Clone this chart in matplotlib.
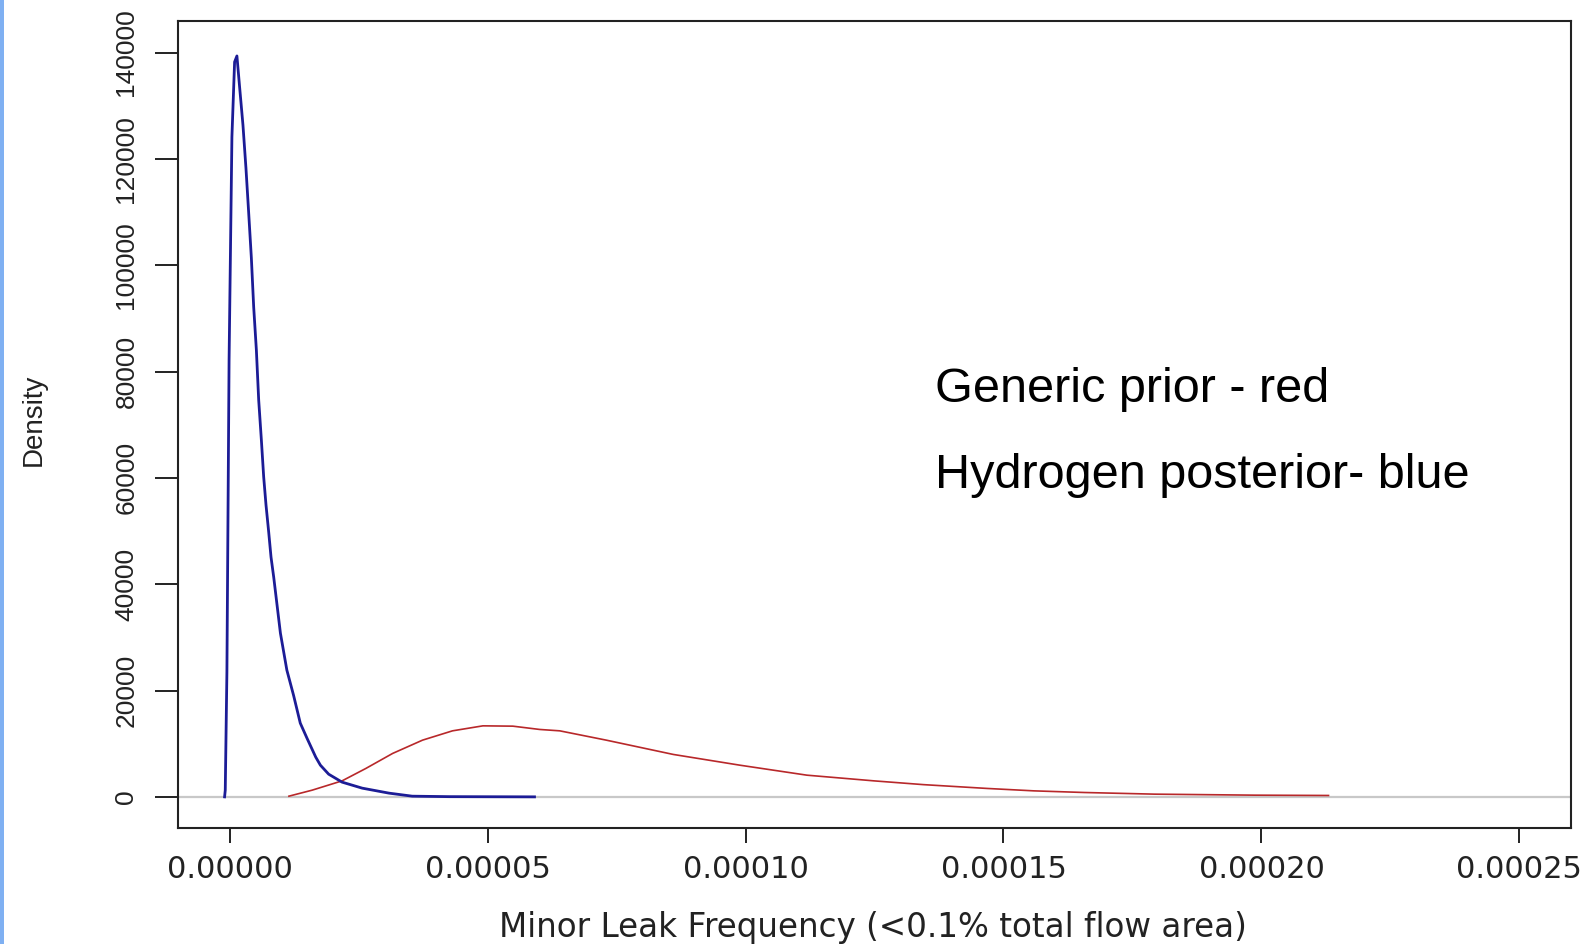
import matplotlib
matplotlib.use("Agg")
import matplotlib.pyplot as plt
from matplotlib.patches import Rectangle

# values
# posterior (blue) density: x in leak frequency, y in density
post_x = [-0.97e-6, -0.84e-6, -0.52e-6, -0.10e-6, 0.45e-6, 0.97e-6, 1.42e-6,
          1.94e-6, 2.59e-6, 3.17e-6, 3.69e-6, 4.22e-6, 4.67e-6, 5.19e-6,
          5.64e-6, 6.16e-6, 6.61e-6, 7.06e-6, 7.58e-6, 8.03e-6, 8.55e-6,
          9.85e-6, 11.1e-6, 12.4e-6, 13.7e-6, 15.0e-6, 16.7e-6, 17.6e-6,
          19.2e-6, 21.8e-6, 25.7e-6, 30.9e-6, 35.4e-6, 42.6e-6, 59.1e-6]
post_y = [0, 1260, 23460, 82150, 124130, 138240, 139370,
          133540, 126380, 118290, 110020, 101360, 92140, 84050,
          74640, 67110, 60150, 54880, 49800, 45100, 41340,
          30800, 23840, 19100, 13870, 11040, 7470, 5960,
          4270, 2770, 1640, 700, 130, 40, 0]

# generic prior (red) density
prior_x = [11.5e-6, 16.0e-6, 21.8e-6, 26.4e-6, 31.6e-6, 37.4e-6, 43.2e-6,
           49.1e-6, 54.9e-6, 60.1e-6, 64.0e-6, 73.0e-6, 86.0e-6, 98.9e-6,
           111.9e-6, 124.9e-6, 134.5e-6, 146.9e-6, 155.9e-6, 165.7e-6,
           179.3e-6, 198.7e-6, 213.0e-6]
prior_y = [130, 1260, 3010, 5340, 8170, 10670, 12420,
           13360, 13300, 12680, 12420, 10670, 7980, 5960,
           4080, 3010, 2300, 1580, 1130, 820,
           510, 320, 260]

x_ticks = [0.0, 0.00005, 0.00010, 0.00015, 0.00020, 0.00025]
x_labels = ["0.00000", "0.00005", "0.00010", "0.00015", "0.00020", "0.00025"]
y_ticks = [0, 20000, 40000, 60000, 80000, 100000, 120000, 140000]
y_labels = ["0", "20000", "40000", "60000", "80000", "100000", "120000", "140000"]

notes = ["Generic prior - red", "Hydrogen posterior- blue"]

narrow = ["DejaVu Sans Condensed", "Liberation Sans Narrow", "Liberation Sans"]

W, H = 1595, 944
fig = plt.figure(figsize=(W / 100, H / 100), dpi=100)
fig.patch.set_facecolor("white")
ax = fig.add_axes([178 / W, 1 - 827.7 / H, (1571 - 178) / W, (827.7 - 20.7) / H])

# light blue strip on the left edge of the slide
fig.patches.append(Rectangle((0, 0), 3.5 / W, 1, transform=fig.transFigure,
                             facecolor="#7fb0f2", edgecolor="none"))

ax.axhline(0, color="#c8c8c8", lw=1.6, zorder=1)
ax.plot(prior_x, prior_y, color="#b8282a", lw=1.2, zorder=2)
ax.plot(post_x, post_y, color="#1c1c96", lw=2.0, zorder=3)

ax.set_xlim(-0.00001, 0.00026)
ax.set_ylim(-5800, 146000)

for s in ax.spines.values():
    s.set_linewidth(1.5)
    s.set_color("#222222")

ax.set_xticks(x_ticks)
ax.set_xticklabels(x_labels, fontsize=22, family="DejaVu Sans", color="#222222")
ax.set_yticks(y_ticks)
ax.set_yticklabels(y_labels, fontsize=19, rotation=90, va="center",
                   family=narrow, color="#222222")
ax.tick_params(axis="x", length=11, width=1.4, pad=9, color="#222222")
ax.tick_params(axis="y", length=16.5, width=1.4, pad=12, color="#222222")

fig.text(34 / W, 1 - 420 / H, "Density", rotation=90, ha="center", va="center",
         fontsize=20, family=narrow, color="#222222")
fig.text(873 / W, 1 - 927 / H, "Minor Leak Frequency (<0.1% total flow area)",
         ha="center", va="center", fontsize=23.5, family="DejaVu Sans",
         color="#222222")

fig.text(935 / W, 1 - 402 / H, notes[0], ha="left", va="baseline",
         fontsize=35, family="Liberation Sans", color="black")
fig.text(935 / W, 1 - 488 / H, notes[1], ha="left", va="baseline",
         fontsize=35, family="Liberation Sans", color="black")

fig.savefig("out.png", dpi=100)
